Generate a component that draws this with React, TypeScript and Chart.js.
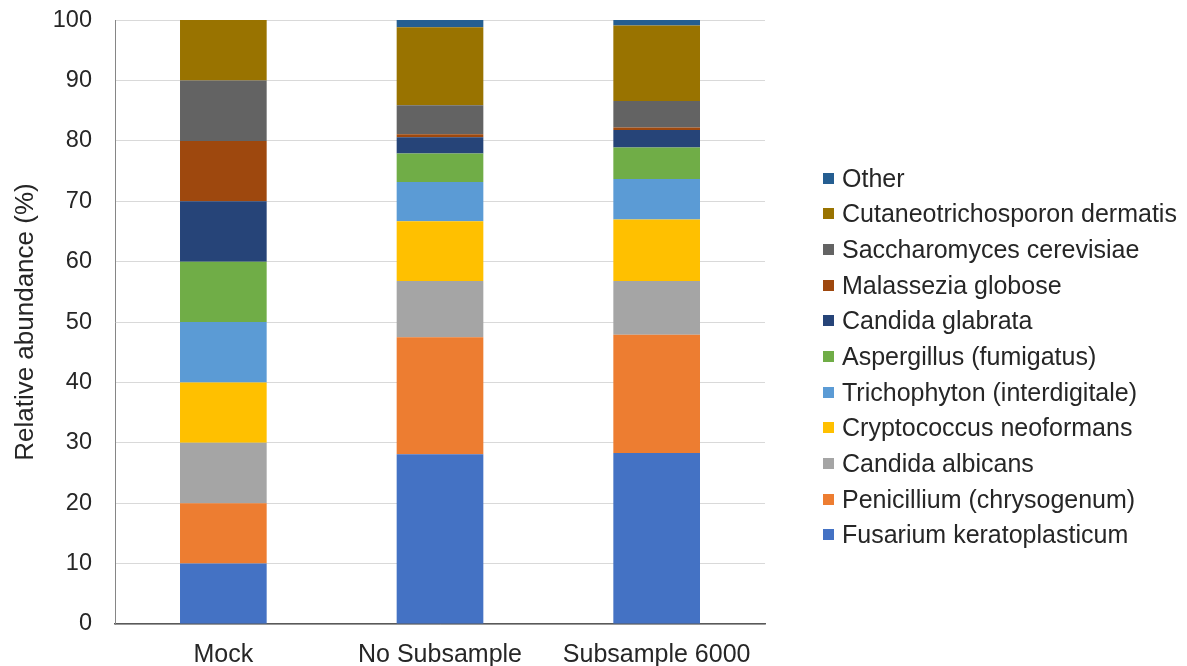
import React, { useEffect, useRef } from "react";
import { Chart, registerables } from "chart.js";

Chart.register(...registerables);

const categories = ["Mock", "No Subsample", "Subsample 6000"];

const seriesNames = [
  "Fusarium keratoplasticum",
  "Penicillium (chrysogenum)",
  "Candida albicans",
  "Cryptococcus neoformans",
  "Trichophyton (interdigitale)",
  "Aspergillus (fumigatus)",
  "Candida glabrata",
  "Malassezia globose",
  "Saccharomyces cerevisiae",
  "Cutaneotrichosporon dermatis",
  "Other",
];

const fusarium = [10, 28.1, 28.3];
const penicillium = [10, 19.4, 19.6];
const candidaAlbicans = [10, 9.3, 8.9];
const cryptococcus = [10, 9.9, 10.2];
const trichophyton = [10, 6.5, 6.7];
const aspergillus = [10, 4.7, 5.2];
const candidaGlabrata = [10, 2.7, 2.9];
const malassezia = [10, 0.5, 0.4];
const saccharomyces = [10, 4.8, 4.4];
const cutaneotrichosporon = [10, 12.9, 12.5];
const other = [0, 1.2, 0.9];

const seriesValues = [
  fusarium,
  penicillium,
  candidaAlbicans,
  cryptococcus,
  trichophyton,
  aspergillus,
  candidaGlabrata,
  malassezia,
  saccharomyces,
  cutaneotrichosporon,
  other,
];

const colors = [
  "#4472C4",
  "#ED7D31",
  "#A5A5A5",
  "#FFC000",
  "#5B9BD5",
  "#70AD47",
  "#264478",
  "#9E480E",
  "#636363",
  "#997300",
  "#255E91",
];

const yTicks = [0, 10, 20, 30, 40, 50, 60, 70, 80, 90, 100];

const FONT = "'Liberation Sans', Arial, sans-serif";

export default function App() {
  const canvasRef = useRef<HTMLCanvasElement | null>(null);

  useEffect(() => {
    document.body.style.margin = "0";
    const canvas = canvasRef.current;
    if (!canvas) return;
    const chart = new Chart(canvas, {
      type: "bar",
      data: {
        labels: categories,
        datasets: seriesNames.map((name, i) => ({
          label: name,
          data: seriesValues[i],
          backgroundColor: colors[i],
          borderWidth: 0,
          categoryPercentage: 1,
          barPercentage: 0.4,
        })),
      },
      options: {
        responsive: false,
        animation: false,
        maintainAspectRatio: false,
        layout: { padding: { top: 3, right: 422, bottom: -20, left: 0 } },
        plugins: {
          legend: { display: false },
          tooltip: { enabled: false },
        },
        scales: {
          x: {
            stacked: true,
            grid: { display: false, drawTicks: false },
            border: { display: true, color: "#595959", width: 1.5 },
            ticks: {
              padding: 16,
              color: "#262626",
              font: { family: FONT, size: 25 },
            },
          },
          y: {
            stacked: true,
            min: 0,
            max: 100,
            afterBuildTicks: (scale: any) => {
              scale.ticks = yTicks.map((v) => ({ value: v }));
            },
            grid: {
              color: "#D9D9D9",
              lineWidth: 1,
              drawTicks: true,
              tickLength: 17,
              tickColor: "rgba(0,0,0,0)",
            },
            border: { display: true, color: "#868686", width: 1 },
            ticks: {
              padding: 6,
              color: "#262626",
              font: { family: FONT, size: 23.5 },
            },
            title: {
              display: true,
              text: "Relative abundance (%)",
              color: "#262626",
              font: { family: FONT, size: 26 },
              padding: { top: 10, bottom: 5.6 },
            },
          },
        },
      },
    });
    return () => chart.destroy();
  }, []);

  const legendItems = seriesNames
    .map((name, i) => ({ name, color: colors[i] }))
    .reverse();

  return (
    <div style={{ position: "relative", width: 1187, height: 666, background: "#fff", overflow: "hidden" }}>
      <canvas ref={canvasRef} width={1187} height={666} style={{ display: "block" }} />
      <div style={{ position: "absolute", left: 823, top: 160.2 }}>
        {legendItems.map((it) => (
          <div
            key={it.name}
            style={{
              display: "flex",
              alignItems: "center",
              height: 35.7,
              fontFamily: FONT,
              fontSize: 25,
              color: "#262626",
              whiteSpace: "nowrap",
            }}
          >
            <span
              style={{
                display: "inline-block",
                width: 11,
                height: 11,
                background: it.color,
                marginRight: 8,
              }}
            />
            <span>{it.name}</span>
          </div>
        ))}
      </div>
    </div>
  );
}
